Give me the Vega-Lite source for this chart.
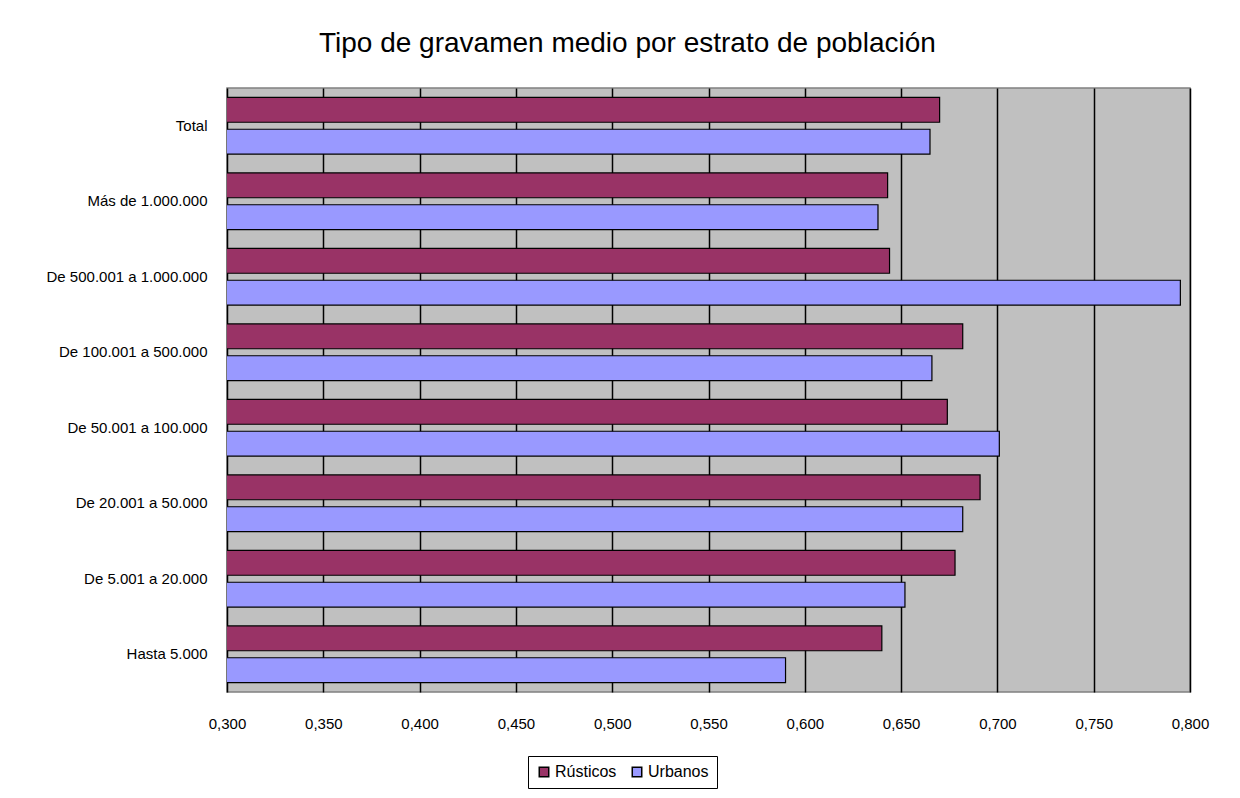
{
  "$schema": "https://vega.github.io/schema/vega-lite/v6.json",
  "width": 963,
  "height": 604,
  "autosize": {"type": "none"},
  "padding": {"left": 227, "top": 88, "right": 50, "bottom": 106},
  "background": "white",
  "title": {
    "text": "Tipo de gravamen medio por estrato de población",
    "fontSize": 28,
    "fontWeight": "normal",
    "font": "Liberation Sans",
    "color": "black",
    "anchor": "middle",
    "frame": "bounds",
    "offset": 30
  },
  "config": {
    "view": {"fill": "#C0C0C0", "stroke": "#808080", "strokeWidth": 1.5},
    "font": "Liberation Sans",
    "locale": {
      "number": {"decimal": ",", "thousands": ".", "grouping": [3], "currency": ["", " €"]}
    }
  },
  "data": {
    "values": [
      {"estrato": "Total", "tipo": "Rústicos", "valor": 0.670},
      {"estrato": "Total", "tipo": "Urbanos", "valor": 0.665},
      {"estrato": "Más de 1.000.000", "tipo": "Rústicos", "valor": 0.643},
      {"estrato": "Más de 1.000.000", "tipo": "Urbanos", "valor": 0.638},
      {"estrato": "De 500.001 a 1.000.000", "tipo": "Rústicos", "valor": 0.644},
      {"estrato": "De 500.001 a 1.000.000", "tipo": "Urbanos", "valor": 0.795},
      {"estrato": "De 100.001 a 500.000", "tipo": "Rústicos", "valor": 0.682},
      {"estrato": "De 100.001 a 500.000", "tipo": "Urbanos", "valor": 0.666},
      {"estrato": "De 50.001 a 100.000", "tipo": "Rústicos", "valor": 0.674},
      {"estrato": "De 50.001 a 100.000", "tipo": "Urbanos", "valor": 0.701},
      {"estrato": "De 20.001 a 50.000", "tipo": "Rústicos", "valor": 0.691},
      {"estrato": "De 20.001 a 50.000", "tipo": "Urbanos", "valor": 0.682},
      {"estrato": "De 5.001 a 20.000", "tipo": "Rústicos", "valor": 0.678},
      {"estrato": "De 5.001 a 20.000", "tipo": "Urbanos", "valor": 0.652},
      {"estrato": "Hasta 5.000", "tipo": "Rústicos", "valor": 0.640},
      {"estrato": "Hasta 5.000", "tipo": "Urbanos", "valor": 0.590}
    ]
  },
  "mark": {"type": "bar", "stroke": "black", "strokeWidth": 1.2, "clip": true},
  "encoding": {
    "y": {
      "field": "estrato",
      "type": "nominal",
      "sort": ["Total", "Más de 1.000.000", "De 500.001 a 1.000.000", "De 100.001 a 500.000", "De 50.001 a 100.000", "De 20.001 a 50.000", "De 5.001 a 20.000", "Hasta 5.000"],
      "scale": {"paddingInner": 0.25, "paddingOuter": 0.125},
      "axis": {
        "title": null,
        "ticks": false,
        "domain": false,
        "labelPadding": 20,
        "labelFontSize": 15,
        "labelColor": "black",
        "labelLimit": 300
      }
    },
    "yOffset": {
      "field": "tipo",
      "type": "nominal",
      "sort": ["Rústicos", "Urbanos"],
      "scale": {"paddingInner": 0.22, "paddingOuter": 0}
    },
    "x": {
      "field": "valor",
      "type": "quantitative",
      "scale": {"domain": [0.3, 0.8], "zero": false, "nice": false},
      "axis": {
        "title": null,
        "values": [0.3, 0.35, 0.4, 0.45, 0.5, 0.55, 0.6, 0.65, 0.7, 0.75, 0.8],
        "format": ".3f",
        "ticks": false,
        "domain": false,
        "grid": true,
        "gridColor": "black",
        "gridWidth": 1.5,
        "gridOpacity": 1,
        "labelPadding": 24,
        "labelFontSize": 15,
        "labelColor": "black",
        "labelFlush": false
      }
    },
    "color": {
      "field": "tipo",
      "type": "nominal",
      "sort": ["Rústicos", "Urbanos"],
      "scale": {"domain": ["Rústicos", "Urbanos"], "range": ["#993366", "#9999FF"]},
      "legend": {
        "title": null,
        "orient": "none",
        "legendX": 301,
        "legendY": 668,
        "direction": "horizontal",
        "strokeColor": "black",
        "padding": 8,
        "symbolType": "square",
        "symbolSize": 90,
        "symbolStrokeColor": "black",
        "symbolStrokeWidth": 1.5,
        "symbolOpacity": 1,
        "labelFontSize": 16,
        "labelColor": "black",
        "columnPadding": 12,
        "labelOffset": 3
      }
    }
  }
}
